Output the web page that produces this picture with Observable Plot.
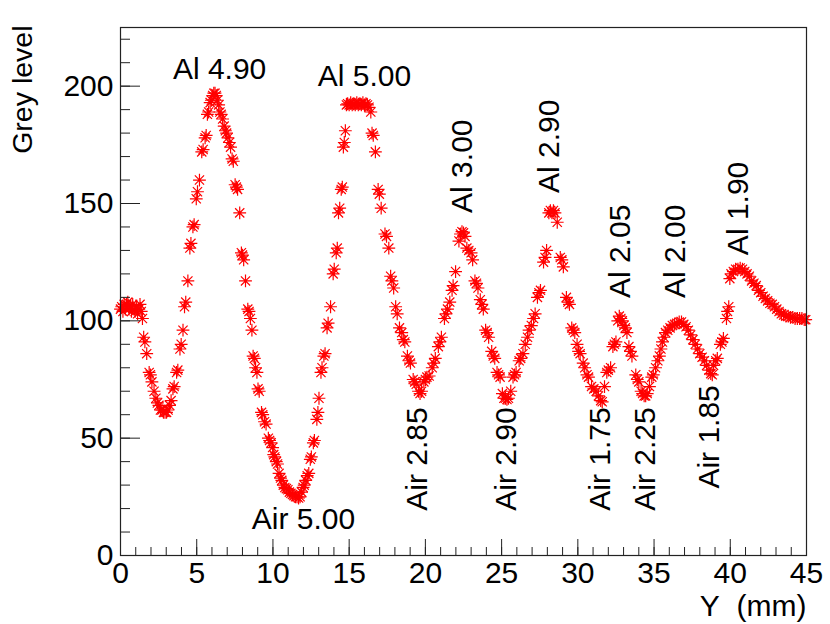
<!DOCTYPE html>
<html><head><meta charset="utf-8">
<script src="https://cdn.jsdelivr.net/npm/d3@7"></script>
<script src="https://cdn.jsdelivr.net/npm/@observablehq/plot@0.6"></script>
<style>html,body{margin:0;padding:0;background:#fff}#chart svg{display:block}</style>
</head><body><div id="chart"></div>
<script>
// Position along Y (mm) and measured grey level
const positionMM = [
0.0,0.08,0.16,0.24,0.32,0.4,0.48,0.56,0.64,0.72,0.8,0.88,0.96,1.04,1.12,1.2,1.28,1.36,1.44,1.52,
1.6,1.72,1.88,1.96,2.06,2.2,2.32,2.42,2.52,2.62,2.72,2.82,2.92,3.02,3.12,3.22,3.32,3.44,3.52,3.68,
3.76,3.9,3.98,4.1,4.2,4.28,4.42,4.55,4.62,4.75,4.83,4.97,5.05,5.18,5.33,5.42,5.55,5.62,5.7,5.78,
5.88,5.96,6.05,6.12,6.2,6.28,6.36,6.44,6.52,6.6,6.7,6.8,6.88,6.96,7.05,7.14,7.22,7.32,7.4,7.52,
7.6,7.68,7.82,7.93,8.0,8.08,8.2,8.35,8.43,8.52,8.62,8.7,8.78,8.86,8.95,9.02,9.1,9.25,9.33,9.45,
9.55,9.7,9.78,9.88,9.98,10.05,10.12,10.22,10.3,10.4,10.5,10.58,10.68,10.78,10.88,10.98,11.08,11.18,11.28,11.38,
11.48,11.58,11.68,11.78,11.88,11.98,12.05,12.15,12.25,12.35,12.45,12.52,12.65,12.72,12.88,12.95,13.02,13.15,13.22,13.34,
13.42,13.55,13.62,13.78,13.95,14.02,14.15,14.22,14.3,14.38,14.48,14.55,14.62,14.68,14.75,14.82,14.9,15.0,15.1,15.2,
15.3,15.4,15.5,15.6,15.7,15.8,15.9,16.0,16.1,16.2,16.3,16.42,16.5,16.58,16.72,16.9,16.98,17.1,17.35,17.45,
17.6,17.72,17.8,17.92,18.05,18.15,18.3,18.45,18.55,18.65,18.82,18.92,19.02,19.2,19.3,19.4,19.55,19.65,19.75,19.9,
20.0,20.1,20.25,20.45,20.55,20.65,20.85,20.95,21.05,21.25,21.35,21.45,21.6,21.75,21.82,21.98,22.2,22.3,22.4,22.5,
22.6,22.72,22.85,23.0,23.1,23.25,23.35,23.45,23.6,23.7,23.8,23.95,24.05,24.15,24.35,24.45,24.55,24.7,24.8,24.9,
25.05,25.15,25.25,25.35,25.45,25.6,25.75,25.85,25.95,26.15,26.25,26.4,26.55,26.7,26.8,26.95,27.1,27.2,27.35,27.45,
27.55,27.75,27.85,27.95,28.1,28.2,28.3,28.4,28.5,28.65,28.85,28.95,29.05,29.25,29.35,29.45,29.6,29.7,29.8,29.95,
30.05,30.15,30.35,30.45,30.6,30.7,30.9,31.05,31.2,31.35,31.5,31.6,31.75,31.9,32.0,32.15,32.3,32.4,32.5,32.62,
32.72,32.82,32.92,33.02,33.12,33.22,33.35,33.45,33.55,33.8,33.9,34.0,34.15,34.25,34.35,34.45,34.55,34.7,34.85,34.95,
35.1,35.25,35.35,35.45,35.55,35.65,35.75,35.9,36.05,36.2,36.35,36.5,36.65,36.8,36.95,37.1,37.25,37.4,37.55,37.7,
37.85,38.0,38.15,38.3,38.45,38.6,38.72,38.82,38.9,39.05,39.15,39.35,39.45,39.55,39.75,39.82,39.9,39.97,40.05,40.2,
40.35,40.5,40.65,40.8,40.95,41.1,41.25,41.4,41.55,41.7,41.85,42.0,42.15,42.3,42.45,42.6,42.75,42.9,43.05,43.2,
43.35,43.5,43.65,43.8,43.95,44.1,44.25,44.4,44.55,44.7,44.85,44.95
];
const greyLevel = [
105,106,104,107,105,107,108,105,106,104,107,105,104,106,103,105,107,104,101,93,
91,86,78,77,74,70,67,65,64,62,62,61,61,61,62,64,66,71,72,78,
79,88,90,96,106,108,117,131,133,140,141,152,155,160,172,173,178,179,188,189,
193,194,196,197,197,196,194,192,189,188,186,183,181,180,178,176,174,169,168,158,
157,156,146,129,128,126,117,105,104,101,96,85,84,80,78,71,70,61,60,57,
56,50,49,48,46,43,42,40,39,35,33,32,30,29,28.5,28,27,26.5,26,25.5,
25,25,24.5,25,27,29,30,32,34,35,41,42,48,49,58,61,67,78,80,85,
86,97,99,106,120,122,129,131,146,148,156,157,174,176,181,192,192.5,192,193,192,
192.5,192,193,192,192.5,192,193,192,192.5,192,191,189,180,179,172,156,154,148,137,136,
131,119,117,114,106,103,97,95,92,91,85,83,82,75,74,73,70,69,70,74,
75,76,76.5,80,82,84,89,91,93,101,103,105,108,113,115,121,134,137,138,137.5,
136,131,130,129,126,117,116,114,109,107,105,96,95,93,87,85,84,78,77,76,
69,67,67,66.5,67,70,76,77,78,83,84,86,90,93,96,98,101,103,110,112,
113,125,127,130,146,147,146,147,146,142,127,126,123,110,108,107,97,96,95,90,
87,86,82,80,77,76,72,71,70,68,66,65.5,72,78,79,80,89,90,91,100,
102,101,100,98,97,95,89,87,85,77,75,74,70,69,68,68,69,72,76,77,
80,83,85,88,91,93,95,96,97,98,98.5,99,99.5,99.5,98.5,97.5,96,94,92,90,
88,86,84.5,83,81,79,77.5,77,81,83,84,90,91,92.5,101,104,106,118,120,121,
122,122,122.5,122,121,120,119,117,116,115,113,112,110.5,109.5,108.5,107.5,107,106,105,104,
103,102.5,102,102,101.5,101.5,101,101,101,101,100.5,100.5
];

// Axis ticks
const xMajor = [0,5,10,15,20,25,30,35,40,45];
const xMinor = d3.range(0, 46, 1);
const yMajor = [0,50,100,150,200];
const yMinor = d3.range(0, 221, 10);

// Annotations (horizontal)
const hText = ["Al 4.90", "Al 5.00", "Air 5.00"];
const hX = [6.5, 16.0, 12.0];
const hY = [203, 200, 11.4];
// Annotations (vertical, reading upward from the given point)
const vText = ["Air 2.85", "Air 2.90", "Air 1.75", "Air 2.25", "Air 1.85",
               "Al 3.00", "Al 2.90", "Al 2.05", "Al 2.00", "Al 1.90"];
const vX = [19.5, 25.3, 31.5, 34.45, 38.6, 22.45, 28.15, 32.8, 36.4, 40.55];
const vY = [19.1, 19.1, 19.1, 19.1, 28.5, 146, 154.5, 109.7, 109.7, 128];

const W = 830, H = 624, mL = 120, mR = 24, mT = 27, mB = 69;
const frameW = W - mL - mR, frameH = H - mT - mB;
const FONT = "'Liberation Sans', Arial, Helvetica, sans-serif";
const FS = 30;

const data = positionMM.map((x, i) => ({x, y: greyLevel[i]}));
const hAnn = hText.map((t, i) => ({t, x: hX[i], y: hY[i]}));
const vAnn = vText.map((t, i) => ({t, x: vX[i], y: vY[i]}));

// ROOT-style asterisk marker (+ and x combined)
const asterisk = {
  draw(ctx, size) {
    const r = Math.sqrt(size / Math.PI);
    const d = r * 0.72;
    ctx.moveTo(-r, 0); ctx.lineTo(r, 0);
    ctx.moveTo(0, -r); ctx.lineTo(0, r);
    ctx.moveTo(-d, -d); ctx.lineTo(d, d);
    ctx.moveTo(-d, d); ctx.lineTo(d, -d);
  }
};

const chart = Plot.plot({
  width: W, height: H,
  marginLeft: mL, marginRight: mR, marginTop: mT, marginBottom: mB,
  style: {fontFamily: FONT, fontSize: FS + "px", background: "#fff", color: "#000", overflow: "visible"},
  x: {domain: [0, 45], label: null},
  y: {domain: [0, 225], label: null},
  marks: [
    Plot.dot(data, {x: "x", y: "y", symbol: asterisk, r: 6.4, stroke: "#ff0000", fill: "none", strokeWidth: 1.2}),
    Plot.tickX(xMinor, {x: d => d, insetTop: frameH - 8, stroke: "#222", strokeWidth: 1}),
    Plot.tickX(xMajor, {x: d => d, insetTop: frameH - 16, stroke: "#222", strokeWidth: 1}),
    Plot.tickY(yMinor, {y: d => d, insetRight: frameW - 10, stroke: "#222", strokeWidth: 1}),
    Plot.tickY(yMajor, {y: d => d, insetRight: frameW - 20, stroke: "#222", strokeWidth: 1}),
    Plot.frame({stroke: "#222", strokeWidth: 1.2}),
    Plot.axisX(xMajor, {tickSize: 0, tickPadding: 6, fontSize: FS, label: null, fill: "#000"}),
    Plot.axisY(yMajor, {tickSize: 0, tickPadding: 7, fontSize: FS, label: null, fill: "#000"}),
    Plot.text(hAnn, {x: "x", y: "y", text: "t", textAnchor: "middle", lineAnchor: "bottom", fontSize: FS, fill: "#000"}),
    Plot.text(vAnn, {x: "x", y: "y", text: "t", rotate: -90, textAnchor: "start", lineAnchor: "middle", fontSize: FS, fill: "#000"}),
    Plot.text(["Grey level"], {frameAnchor: "top-left", rotate: -90, textAnchor: "end", lineAnchor: "middle", dx: -98, dy: -2, fontSize: 28.5, fill: "#000"}),
    Plot.text(["Y\u00A0\u00A0(mm)"], {frameAnchor: "bottom-right", textAnchor: "end", lineAnchor: "bottom", dy: 60, fontSize: FS, fill: "#000"})
  ]
});
document.getElementById("chart").appendChild(chart);
</script>
</body></html>
